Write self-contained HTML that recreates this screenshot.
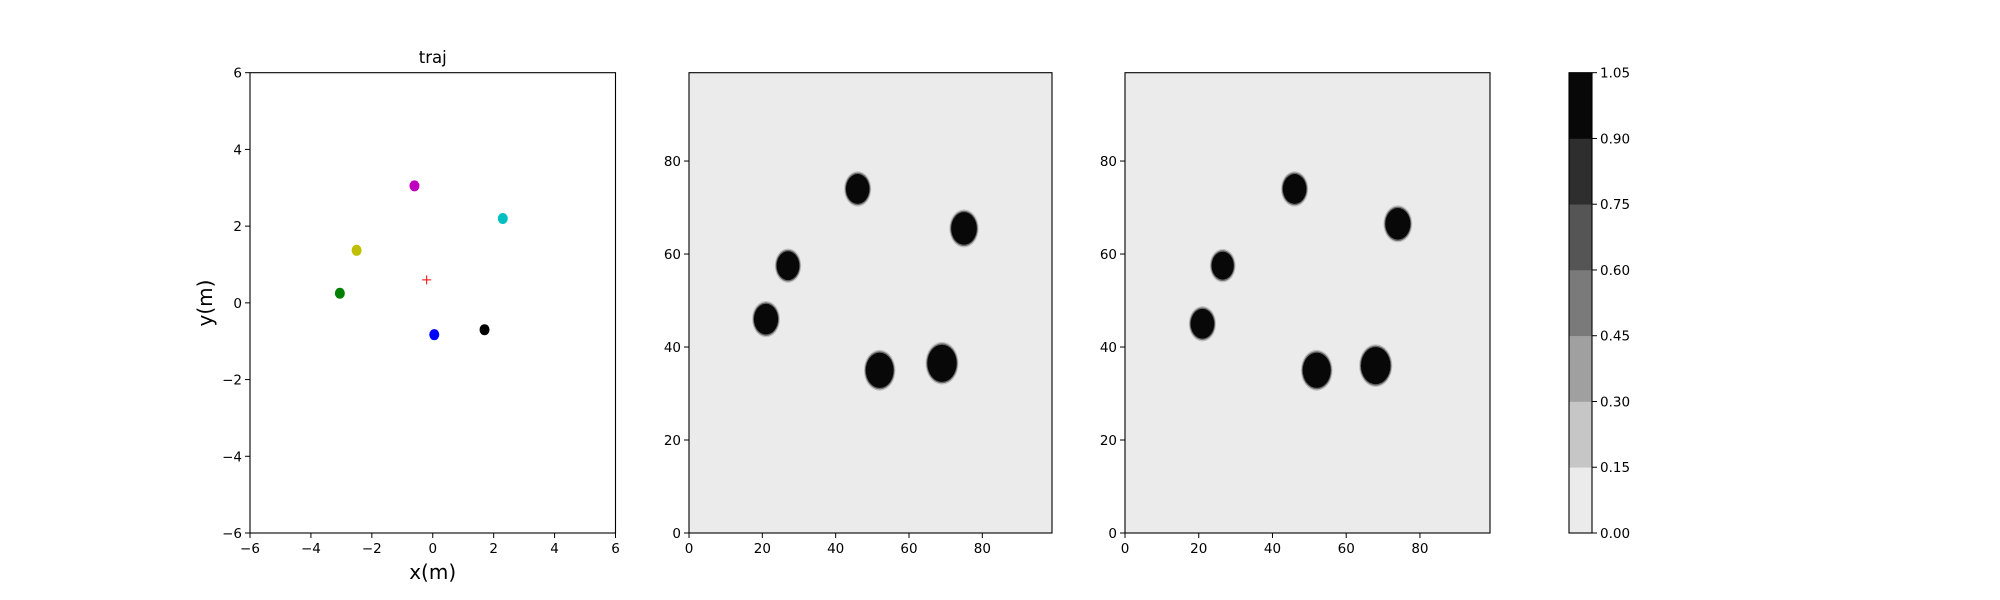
<!DOCTYPE html>
<html><head><meta charset="utf-8">
<style>
html,body{margin:0;padding:0;background:#fff;}
svg{display:block;font-family:"DejaVu Sans","Liberation Sans",sans-serif;}
</style></head>
<body>
<svg id="fig" width="2000" height="600" viewBox="0 0 2000 600" xmlns="http://www.w3.org/2000/svg"></svg>
<script>
// ---- data ----
const trajX = [-0.6, 2.3, -2.5, -3.05, 0.05, 1.7];
const trajY = [3.05, 2.2, 1.37, 0.25, -0.83, -0.7];
const trajColors = ['#bf00bf', '#00bfbf', '#bfbf00', '#008000', '#0000ff', '#000000'];
const targetX = [-0.2];
const targetY = [0.6];
const trajTicks = [-6, -4, -2, 0, 2, 4, 6];
const map1X = [21, 27, 46, 75, 52, 69];
const map1Y = [46, 57.5, 74, 65.5, 35, 36.5];
const map1R = [3.3, 3.1, 3.2, 3.5, 3.8, 4.0];
const map2X = [21, 26.5, 46, 74, 52, 68];
const map2Y = [45, 57.5, 74, 66.5, 35, 36];
const map2R = [3.2, 3.0, 3.2, 3.4, 3.8, 4.0];
const mapTicksX = [0, 20, 40, 60, 80];
const mapTicksY = [0, 20, 40, 60, 80];
const cbLevels = [0, 0.15, 0.30, 0.45, 0.60, 0.75, 0.90, 1.05];
const cbColors = ['#ebebeb', '#c6c6c6', '#a0a0a0', '#7a7a7a', '#555555', '#2e2e2e', '#080808'];
const cbLabels = ['0.00', '0.15', '0.30', '0.45', '0.60', '0.75', '0.90', '1.05'];

const NS = 'http://www.w3.org/2000/svg';
const svg = document.getElementById('fig');
function mk(tag, attrs, parent) {
  const e = document.createElementNS(NS, tag);
  for (const k in attrs) e.setAttribute(k, attrs[k]);
  (parent || svg).appendChild(e);
  return e;
}
const TOP = 72.7, BOT = 533;
function linear(d0, d1, r0, r1) { return v => r0 + (v - d0) / (d1 - d0) * (r1 - r0); }

function axes(name, L, R, xd, yd, xt, yt) {
  const g = mk('g', {});
  
  
  const sx = linear(xd[0], xd[1], L, R), sy = linear(yd[0], yd[1], BOT, TOP);
  return { g, sx, sy, L, R, xt, yt };
}
function frame(a) {
  const r = mk('rect', { x: a.L, y: TOP, width: a.R - a.L, height: BOT - TOP, fill: 'none', stroke: '#000', 'stroke-width': 1.1 }, a.g);
  
  
  a.xt.forEach(v => {
    const x = a.sx(v);
    mk('line', { x1: x, x2: x, y1: BOT, y2: BOT + 5, stroke: '#000', 'stroke-width': 1 }, a.g);
    const t = mk('text', { x: x, y: BOT + 20, 'font-size': 13.5, 'text-anchor': 'middle' }, a.g);
    t.textContent = (v < 0 ? '\u2212' + (-v) : String(v));
    
    
  });
  a.yt.forEach(v => {
    const y = a.sy(v);
    mk('line', { x1: a.L - 5, x2: a.L, y1: y, y2: y, stroke: '#000', 'stroke-width': 1 }, a.g);
    const t = mk('text', { x: a.L - 8, y: y + 5, 'font-size': 13.5, 'text-anchor': 'end' }, a.g);
    t.textContent = (v < 0 ? '\u2212' + (-v) : String(v));
    
    
  });
}

// ---- panel 1: trajectory ----
const a1 = axes('traj-panel', 250, 615.5, [-6, 6], [-6, 6], trajTicks, trajTicks);
mk('rect', { x: 250, y: TOP, width: 365.5, height: BOT - TOP, fill: '#fff' }, a1.g);
trajX.forEach((x, i) => {
  const c = mk('ellipse', { cx: a1.sx(x), cy: a1.sy(trajY[i]), rx: 5, ry: 5.5, fill: trajColors[i] }, a1.g);
  
  
});
targetX.forEach((x, i) => {
  const px = a1.sx(x), py = a1.sy(targetY[i]);
  const p = mk('path', { d: `M${px - 4.5},${py}H${px + 4.5}M${px},${py - 4.5}V${py + 4.5}`, stroke: '#ff0000', 'stroke-width': 1 }, a1.g);
  
  
});
frame(a1);
let t = mk('text', { x: 432.7, y: 63, 'font-size': 16.5, 'text-anchor': 'middle' });
t.textContent = 'traj';


t = mk('text', { x: 432.7, y: 579, 'font-size': 20, 'text-anchor': 'middle' });
t.textContent = 'x(m)';


t = mk('text', { x: 212, y: 303, 'font-size': 20, 'text-anchor': 'middle', transform: 'rotate(-90 212 303)' });
t.textContent = 'y(m)';



// ---- heatmaps ----
function heat(name, L, R, xs, ys, rs) {
  const a = axes(name, L, R, [0, 99], [0, 99], mapTicksX, mapTicksY);
  mk('rect', { x: L, y: TOP, width: R - L, height: BOT - TOP, fill: '#ebebeb' }, a.g);
  const kx = (R - L) / 99, ky = (BOT - TOP) / 99;
  xs.forEach((x, i) => {
    const cx = a.sx(x), cy = a.sy(ys[i]), r = rs[i];
    const rim = mk('ellipse', { cx, cy, rx: (r + 0.5) * kx, ry: (r + 0.6) * ky, fill: '#c0c0c0' }, a.g);
    
    
    const rim2 = mk('ellipse', { cx, cy, rx: (r + 0.25) * kx, ry: (r + 0.3) * ky, fill: '#6a6a6a' }, a.g);
    
    
    const b = mk('ellipse', { cx, cy, rx: r * kx, ry: r * ky, fill: '#080808' }, a.g);
    
    
  });
  frame(a);
}
heat('map-panel-1', 689, 1052, map1X, map1Y, map1R);
heat('map-panel-2', 1125, 1490, map2X, map2Y, map2R);

// ---- colorbar ----
const cb = mk('g', {});


const cy = linear(0, 1.05, BOT, TOP);
cbColors.forEach((c, i) => {
  const y0 = cy(cbLevels[i + 1]), y1 = cy(cbLevels[i]);
  const r = mk('rect', { x: 1569, y: y0, width: 23, height: y1 - y0 + 0.3, fill: c }, cb);
  
  
});
mk('rect', { x: 1569, y: TOP, width: 23, height: BOT - TOP, fill: 'none', stroke: '#000', 'stroke-width': 1.1 }, cb);
cbLevels.forEach((v, i) => {
  const y = cy(v);
  mk('line', { x1: 1592, x2: 1597, y1: y, y2: y, stroke: '#000' }, cb);
  const tt = mk('text', { x: 1600, y: y + 5, 'font-size': 13.5 }, cb);
  tt.textContent = cbLabels[i];
  
  
});
</script>
</body></html>
